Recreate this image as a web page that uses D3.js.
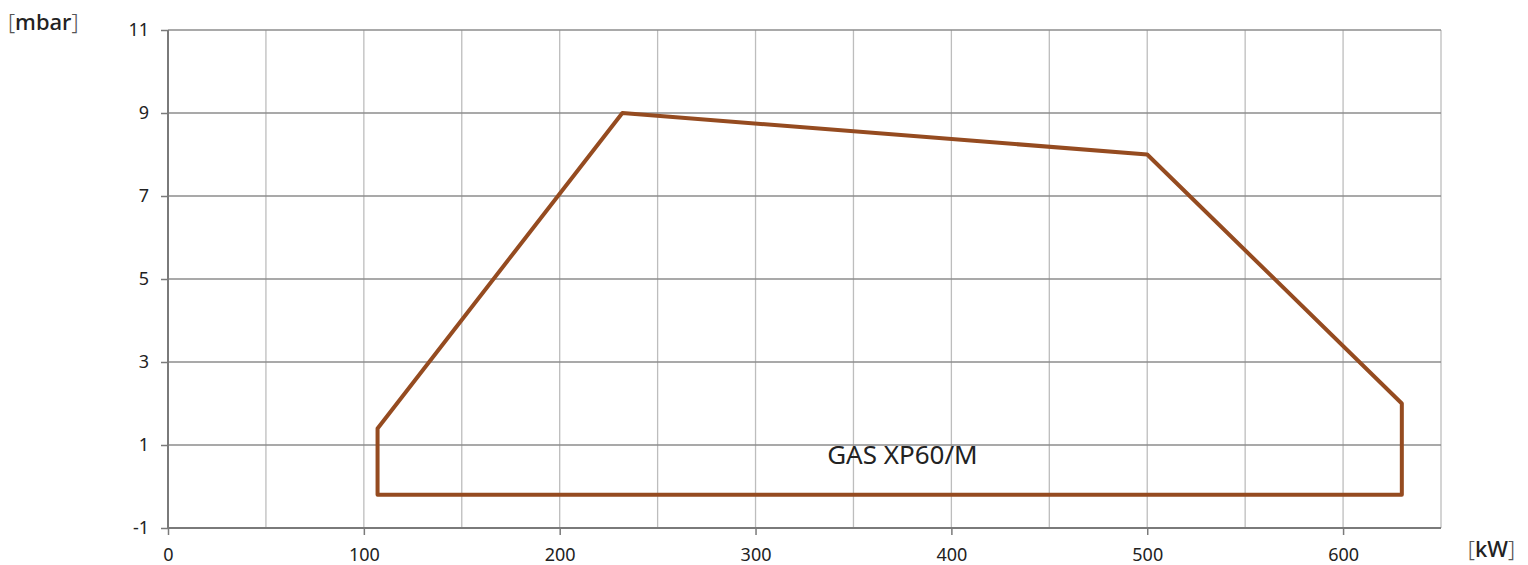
<!DOCTYPE html>
<html>
<head>
<meta charset="utf-8">
<script src="https://cdn.jsdelivr.net/npm/d3@7"></script>
<style>
  body { margin: 0; background: #fff; }
  text { font-family: "Noto Sans", sans-serif; fill: #222; }
</style>
</head>
<body>
<script>
// working range of the burner, kW vs mbar
var power = [107, 107, 232, 500, 630, 630];
var pressure = [-0.2, 1.4, 9, 8, 2, -0.2];
var xTicks = [0, 100, 200, 300, 400, 500, 600];
var yTicks = [-1, 1, 3, 5, 7, 9, 11];
var xGrid = [50, 150, 250, 350, 450, 550, 650];
var modelName = "GAS XP60/M";

var width = 1528, height = 565;
var margin = {top: 30, right: 87, bottom: 37, left: 168};

var svg = d3.select("body").append("svg")
    .attr("width", width)
    .attr("height", height);

var x = d3.scaleLinear().domain([0, 650]).range([margin.left, width - margin.right]);
var y = d3.scaleLinear().domain([-1, 11]).range([height - margin.bottom, margin.top]);

// vertical grid (light)
svg.append("g")
  .selectAll("line")
  .data(xTicks.concat(xGrid).filter(function(d) { return d > 0; }))
  .enter().append("line")
    .attr("x1", function(d) { return x(d); })
    .attr("x2", function(d) { return x(d); })
    .attr("y1", y(11))
    .attr("y2", y(-1))
    .style("stroke", "#bdbdbd")
    .style("stroke-width", 1.3);

// horizontal grid (darker)
svg.append("g")
  .selectAll("line")
  .data(yTicks)
  .enter().append("line")
    .attr("x1", x(0))
    .attr("x2", x(650))
    .attr("y1", function(d) { return y(d); })
    .attr("y2", function(d) { return y(d); })
    .style("stroke", "#8c8c8c")
    .style("stroke-width", 1.3);

// plain hyphen for negatives, like the original
var fmt = function(d) { return String(d); };

var xAxis = svg.append("g")
    .attr("transform", "translate(0," + y(-1) + ")")
    .call(d3.axisBottom(x).tickValues(xTicks).tickSize(7).tickPadding(13).tickFormat(fmt));

var yAxis = svg.append("g")
    .attr("transform", "translate(" + x(0) + ",0)")
    .call(d3.axisLeft(y).tickValues(yTicks).tickSize(7).tickPadding(12).tickFormat(fmt));

[xAxis, yAxis].forEach(function(a) {
  a.select(".domain").style("stroke", "#7a7a7a").style("stroke-width", 2);
  a.selectAll(".tick line").style("stroke", "#7a7a7a").style("stroke-width", 1.5);
  a.selectAll(".tick text")
    .style("font-family", "'Noto Sans', sans-serif")
    .style("font-size", "18px")
    .style("fill", "#222");
});
yAxis.select(".domain").attr("d", "M0," + y(11) + "V" + y(-1));
xAxis.select(".domain").attr("d", "M" + x(0) + ",0H" + x(650));

// the working envelope
var line = d3.line()
    .x(function(d) { return x(d[0]); })
    .y(function(d) { return y(d[1]); });

svg.append("path")
    .datum(d3.zip(power, pressure))
    .attr("d", function(d) { return line(d) + "Z"; })
    .style("fill", "none")
    .style("stroke", "#954b20")
    .style("stroke-width", 4)
    .style("stroke-linejoin", "round");

svg.append("text")
    .attr("x", x(375))
    .attr("y", y(1) + 19)
    .attr("text-anchor", "middle")
    .style("font-size", "26px")
    .text(modelName);

// unit labels
function unitLabel(tx, ty, anchor, unit) {
  var t = svg.append("text")
      .attr("x", tx)
      .attr("y", ty)
      .attr("text-anchor", anchor)
      .style("font-size", "22px");
  t.append("tspan").style("font-weight", 300).style("fill", "#555").text("[");
  t.append("tspan").style("font-weight", 500).text(unit);
  t.append("tspan").style("font-weight", 300).style("fill", "#555").text("]");
}
unitLabel(8, 30, "start", "mbar");
unitLabel(1515, 557, "end", "kW");
</script>
</body>
</html>
